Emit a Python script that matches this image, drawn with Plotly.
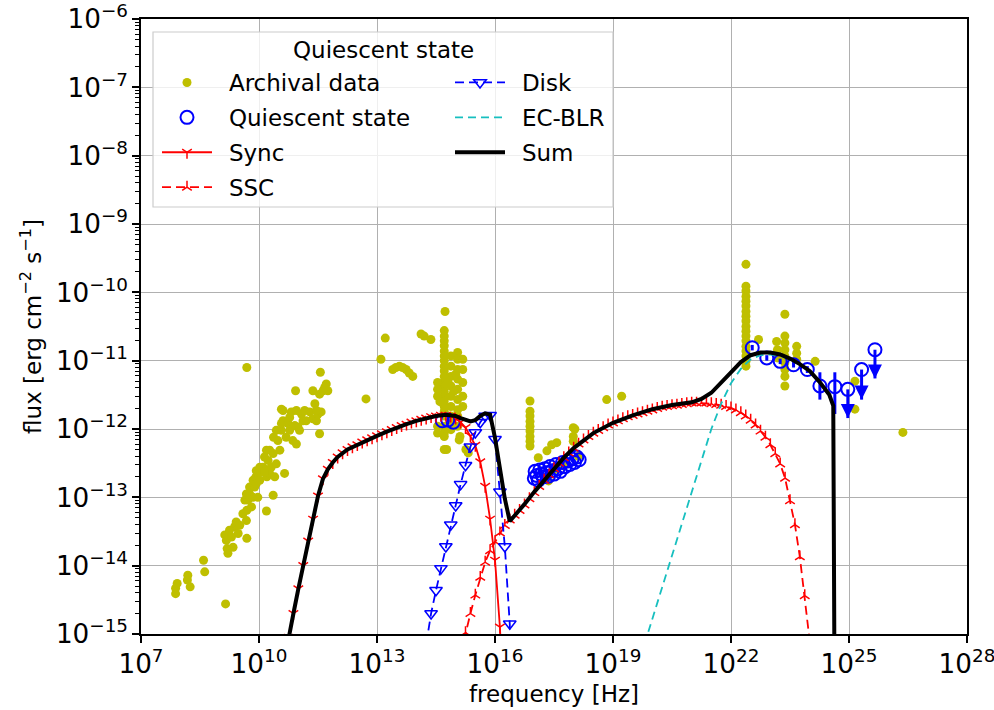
import numpy as np
import plotly.graph_objects as go

FONT = "DejaVu Sans"

# ---------------- archival data (log10 nu [Hz], log10 nuFnu [erg cm-2 s-1]) ----------------
arch_lognu = [
    7.88, 7.88, 7.92, 8.18, 8.19, 8.25, 8.59, 8.62, 9.15,
    9.13, 9.17, 9.19, 9.21, 9.34, 9.38, 9.42, 9.47, 9.51, 9.69, 9.68, 9.69, 9.72, 9.76, 9.76,
    9.81, 9.85, 9.89, 9.92, 9.93, 9.97, 10.02, 10.06, 10.10, 10.14, 10.19, 10.20, 10.23, 10.27,
    10.31, 10.36, 10.37, 10.40, 10.44, 10.48, 10.53, 10.57, 10.57, 10.61, 10.61, 10.65, 10.69,
    10.74, 10.78, 10.82, 10.86, 10.91, 10.95, 10.95, 10.99, 11.03, 11.08, 11.16, 11.20, 11.29,
    11.37, 11.42, 11.46, 11.50, 11.54, 11.58, 11.54, 11.63, 11.71, 11.75, 11.37, 10.93, 10.57,
    10.36, 10.19, 11.56, 9.69,
    9.25, 9.30, 9.59, 9.64, 9.68, 9.85, 9.93, 10.02, 10.14, 10.27, 10.44, 10.78, 11.12, 11.46, 11.67,
    12.72, 13.21, 13.10, 13.40, 13.57, 13.74, 13.82, 13.91, 14.12, 14.20, 14.37, 14.73, 13.48, 13.65,
    14.71, 14.71, 14.71, 14.71, 14.71, 14.71, 14.71, 14.71, 14.71, 14.71, 14.71, 14.71, 14.71,
    14.71, 14.71, 14.71, 14.71, 14.71, 14.71, 14.71, 14.71, 14.71,
    14.88, 14.88, 14.88, 14.88, 14.88, 14.88, 14.88, 14.88, 14.88,
    15.05, 15.05, 15.05, 15.05, 15.05, 15.05, 15.05, 15.05, 15.05,
    15.18, 15.18, 15.18, 15.18, 15.18,
    14.54, 14.54, 14.54, 14.54, 14.54,
    14.77, 15.09, 15.26, 15.32, 15.11, 14.60, 14.95, 15.00, 14.80,
    16.89, 16.89, 16.89, 16.89, 16.89, 16.89, 16.89, 16.89, 16.89,
    17.10, 17.32, 17.44, 17.57, 17.36, 17.99, 17.99, 18.12, 18.84, 17.53, 17.74, 19.22, 18.03, 17.99,
    22.38, 22.38, 22.38, 22.38, 22.38, 22.38, 22.38, 22.38, 22.38, 22.38, 22.38, 22.38, 22.38,
    22.38, 22.38, 22.38, 22.38, 22.38,
    22.70, 23.16, 23.18, 23.18, 23.37, 23.37, 23.37, 23.37, 23.37, 23.37, 23.37, 23.37, 23.37,
    23.67, 23.67, 23.67, 24.14, 25.15, 25.15, 26.37,
]
arch_logflux = [
    -14.41, -14.33, -14.26, -14.21, -14.14, -14.31, -13.92, -14.09, -14.56,
    -13.55, -13.63, -13.75, -13.82, -13.73, -13.43, -13.36, -13.53, -13.41, -13.60, -13.34, -13.19,
    -13.04, -12.95, -12.85, -13.14, -13.00, -12.85, -12.70, -12.61, -13.00, -12.75, -12.63, -12.56,
    -12.41, -12.31, -12.70, -12.46, -12.65, -12.56, -12.36, -12.12, -12.70, -12.51, -12.17, -12.31,
    -12.02, -11.92, -11.88, -11.73, -12.65, -12.12, -11.92, -12.02, -11.75, -12.17, -11.95, -12.22,
    -11.73, -11.97, -12.02, -11.78, -11.73, -11.88, -11.75, -11.85, -11.63, -11.88, -11.78, -12.07,
    -11.75, -11.49, -11.44, -11.34, -11.44, -11.44, -11.44, -11.71, -12.97, -13.20, -11.17, -11.10,
    -13.48, -13.58, -13.24, -13.04, -12.95, -12.75, -12.80, -12.56, -12.63, -12.31, -12.02, -11.83,
    -11.88, -11.73, -11.39,
    -11.56, -10.67, -10.98, -11.13, -11.08, -11.13, -11.18, -11.23, -10.61, -10.64, -10.69, -10.28,
    -11.10, -11.10,
    -10.56, -10.64, -10.71, -10.78, -10.86, -10.93, -11.00, -11.08, -11.15, -11.23, -11.30, -11.37,
    -11.45, -11.52, -11.59, -11.67, -11.74, -11.81, -11.96, -12.06, -12.11, -12.30,
    -10.93, -11.08, -11.23, -11.37, -11.52, -11.67, -11.81, -11.91, -12.01,
    -10.88, -10.98, -11.13, -11.27, -11.42, -11.57, -11.72, -11.81, -11.96,
    -10.98, -11.13, -11.32, -11.52, -11.67,
    -11.32, -11.42, -11.52, -11.96, -12.06,
    -12.30, -12.16, -12.30, -12.35, -12.11, -11.60, -11.45, -11.20, -11.30,
    -11.59, -11.74, -11.81, -11.89, -11.96, -12.03, -12.11, -12.18, -12.25,
    -12.42, -12.32, -12.23, -12.20, -12.76, -11.98, -12.11, -12.40, -11.57, -12.59, -12.54, -11.52,
    -12.00, -12.18,
    -9.59, -9.91, -9.98, -10.06, -10.13, -10.20, -10.28, -10.35, -10.42, -10.50, -10.57, -10.64,
    -10.71, -10.79, -10.86, -10.93, -11.01, -11.08,
    -10.69, -10.72, -10.84, -10.96, -10.32, -10.64, -10.74, -10.84, -10.93, -11.03, -11.13, -11.23,
    -11.37, -10.79, -10.89, -10.98, -11.01, -11.30, -11.71, -12.05,
]

# ---------------- quiescent-state data ----------------
# optical/UV and X-ray points
quies_lognu = [
    14.66, 14.80, 14.94,
    17.00, 17.02, 17.06, 17.10, 17.14, 17.18, 17.22, 17.27, 17.31, 17.36, 17.40, 17.45,
    17.50, 17.55, 17.60, 17.66, 17.72, 17.78, 17.84, 17.90, 17.96, 18.02, 18.08, 18.14,
]
quies_logflux = [
    -11.88, -11.87, -11.90,
    -12.72, -12.62, -12.68, -12.75, -12.60, -12.66, -12.70, -12.58, -12.64, -12.69, -12.55, -12.61,
    -12.66, -12.52, -12.58, -12.62, -12.49, -12.55, -12.47, -12.52, -12.44, -12.49, -12.41, -12.45,
]
# gamma-ray detections with error ranges
gam_lognu = [22.54, 22.91, 23.25, 23.59, 23.94, 24.26, 24.64]
gam_logflux = [-10.81, -10.96, -11.01, -11.06, -11.13, -11.37, -11.38]
gam_loghi = [-10.77, -10.92, -10.97, -11.02, -11.08, -11.17, -11.17]
gam_loglo = [-10.85, -11.00, -11.05, -11.10, -11.18, -11.57, -11.78]
# gamma-ray upper limits
ul_lognu = [24.97, 25.32, 25.66]
ul_logflux = [-11.42, -11.13, -10.84]
ul_logtip = [-11.84, -11.57, -11.26]

# ---------------- model components ----------------
sync_lognu = [10.625, 10.75, 10.875, 11.0, 11.125, 11.25, 11.375, 11.5, 11.625, 11.75, 11.875,
              12.0, 12.125, 12.25, 12.375, 12.5, 12.625, 12.75, 12.875, 13.0, 13.125, 13.25,
              13.375, 13.5, 13.625, 13.75, 13.875, 14.0, 14.125, 14.25, 14.375, 14.5, 14.625,
              14.75, 14.875, 15.0, 15.125, 15.25, 15.375, 15.5, 15.625, 15.75, 15.875, 16.0,
              16.125, 16.25]
sync_logflux = [-15.45, -15.05, -14.70, -14.34, -14.00, -13.64, -13.32, -12.98, -12.73, -12.59,
                -12.49, -12.41, -12.35, -12.30, -12.26, -12.23, -12.19, -12.16, -12.13, -12.10,
                -12.07, -12.04, -12.01, -11.98, -11.95, -11.93, -11.90, -11.88, -11.86, -11.84,
                -11.82, -11.81, -11.80, -11.80, -11.81, -11.84, -11.90, -11.98, -12.10, -12.24,
                -12.48, -12.84, -13.32, -13.92, -14.90, -16.30]

ssc_lognu = [15.125, 15.25, 15.375, 15.5, 15.625, 15.75, 15.875, 16.0, 16.125, 16.25, 16.375,
             16.5, 16.625, 16.75, 16.875, 17.0, 17.125, 17.25, 17.375, 17.5, 17.625, 17.75,
             17.875, 18.0, 18.125, 18.25, 18.375, 18.5, 18.625, 18.75, 18.875, 19.0, 19.125,
             19.25, 19.375, 19.5, 19.625, 19.75, 19.875, 20.0, 20.125, 20.25, 20.375, 20.5,
             20.625, 20.75, 20.875, 21.0, 21.125, 21.25, 21.375, 21.5, 21.625, 21.75, 21.875,
             22.0, 22.125, 22.25, 22.375, 22.5, 22.625, 22.75, 22.875, 23.0, 23.125, 23.25,
             23.375, 23.5, 23.625, 23.75, 23.875, 24.0, 24.125]
ssc_logflux = [-15.30, -14.98, -14.70, -14.43, -14.17, -13.95, -13.78, -13.65, -13.52, -13.41,
               -13.33, -13.26, -13.19, -13.11, -13.02, -12.93, -12.84, -12.75, -12.67, -12.58,
               -12.50, -12.42, -12.35, -12.28, -12.22, -12.16, -12.11, -12.06, -12.02, -11.98,
               -11.94, -11.91, -11.88, -11.85, -11.82, -11.80, -11.78, -11.76, -11.74, -11.72,
               -11.70, -11.68, -11.67, -11.66, -11.65, -11.64, -11.63, -11.62, -11.62, -11.62,
               -11.62, -11.63, -11.64, -11.65, -11.67, -11.69, -11.72, -11.76, -11.81, -11.87,
               -11.94, -12.03, -12.12, -12.23, -12.36, -12.51, -12.72, -13.05, -13.40, -13.87,
               -14.44, -15.10, -15.90]

disk_lognu = [14.25, 14.375, 14.5, 14.625, 14.75, 14.875, 15.0, 15.125, 15.25, 15.375, 15.5,
              15.625, 15.75, 15.875, 16.0, 16.125, 16.25, 16.375, 16.5]
disk_logflux = [-15.15, -14.70, -14.36, -14.04, -13.72, -13.40, -13.12, -12.81, -12.53, -12.26,
                -12.05, -11.90, -11.81, -11.80, -12.15, -12.92, -13.72, -14.85, -17.00]

ec_lognu = [19.8, 20.0, 20.25, 20.5, 20.75, 21.0, 21.25, 21.5, 21.75, 22.0, 22.25, 22.5, 22.75,
            23.0, 23.25, 23.5, 23.75, 24.0, 24.25, 24.5, 24.6, 24.62]
ec_logflux = [-15.15, -14.78, -14.34, -13.88, -13.41, -12.92, -12.46, -12.00, -11.63, -11.33,
              -11.12, -10.98, -10.92, -10.91, -10.93, -10.98, -11.06, -11.16, -11.32, -11.51,
              -11.68, -16.00]

sum_lognu = [10.625, 10.75, 10.875, 11.0, 11.125, 11.25, 11.375, 11.5, 11.625, 11.75, 11.875,
             12.0, 12.25, 12.5, 12.75, 13.0, 13.25, 13.5, 13.75, 14.0, 14.25, 14.5, 14.75, 15.0,
             15.125, 15.25, 15.375, 15.5, 15.625, 15.75, 15.875, 16.0, 16.125, 16.25, 16.375,
             16.5, 16.75, 17.0, 17.25, 17.5, 17.75, 18.0, 18.5, 19.0, 19.5, 20.0, 20.5, 21.0,
             21.25, 21.5, 21.75, 22.0, 22.25, 22.5, 22.75, 23.0, 23.25, 23.5, 23.75, 24.0, 24.25,
             24.5, 24.6, 24.62, 24.63]
sum_logflux = [-15.45, -15.05, -14.70, -14.34, -14.00, -13.64, -13.32, -12.98, -12.73, -12.59,
               -12.49, -12.41, -12.30, -12.23, -12.16, -12.10, -12.04, -11.98, -11.93, -11.88,
               -11.84, -11.81, -11.79, -11.81, -11.84, -11.87, -11.89, -11.87, -11.81, -11.77,
               -11.79, -12.13, -12.55, -13.02, -13.35, -13.27, -13.10, -12.92, -12.75, -12.58,
               -12.42, -12.28, -12.06, -11.91, -11.80, -11.71, -11.65, -11.61, -11.56, -11.47,
               -11.33, -11.17, -11.02, -10.92, -10.88, -10.88, -10.91, -10.97, -11.05, -11.15,
               -11.31, -11.50, -11.66, -13.00, -15.50]

# ---------------- page geometry ----------------
W, H = 994, 710
ML, MR, MT, MB = 141, 27, 19, 76
GAP = "\u00a0\u2009"  # spacing between legend handle and label


def xp(px):
    return (px - ML) / (W - ML - MR)


def yp(py):
    return (H - MB - py) / (H - MT - MB)


def lin(v):
    return np.power(10.0, np.asarray(v, dtype=float))


fig = go.Figure()

fig.add_trace(go.Scatter(
    x=lin(arch_lognu), y=lin(arch_logflux), mode="markers", name=GAP + "Archival data",
    marker=dict(color="#bfbf00", size=9, line=dict(width=0)),
    legend="legend", legendgroup="arch"))

fig.add_trace(go.Scatter(
    x=lin(quies_lognu), y=lin(quies_logflux), mode="markers", name=GAP + "Quiescent state",
    marker=dict(symbol="circle-open", color="#0000ff", size=13, line=dict(width=2)),
    legend="legend", legendgroup="quies"))

gy = lin(gam_logflux)
fig.add_trace(go.Scatter(
    x=lin(gam_lognu), y=gy, mode="markers", showlegend=False,
    marker=dict(symbol="circle-open", color="#0000ff", size=13, line=dict(width=2)),
    error_y=dict(type="data", symmetric=False, array=lin(gam_loghi) - gy,
                 arrayminus=gy - lin(gam_loglo), color="#0000ff", thickness=3, width=0),
    legend="legend", legendgroup="quies"))

uy = lin(ul_logflux)
fig.add_trace(go.Scatter(
    x=lin(ul_lognu), y=uy, mode="markers", showlegend=False,
    marker=dict(symbol="circle-open", color="#0000ff", size=13, line=dict(width=2)),
    error_y=dict(type="data", symmetric=False, array=[0, 0, 0],
                 arrayminus=uy - lin(ul_logtip), color="#0000ff", thickness=3, width=0),
    legend="legend", legendgroup="quies"))
fig.add_trace(go.Scatter(
    x=lin(ul_lognu), y=lin(ul_logtip), mode="markers", showlegend=False,
    marker=dict(symbol="arrow-down", color="#0000ff", size=14, line=dict(width=0)),
    legend="legend", legendgroup="quies"))

fig.add_trace(go.Scatter(
    x=lin(sync_lognu), y=lin(sync_logflux), mode="lines+markers", name=GAP + "Sync",
    line=dict(color="#ff0000", width=1.8),
    marker=dict(symbol="y-down", size=8, color="#ff0000", line=dict(color="#ff0000", width=1.5)),
    legend="legend", legendgroup="sync"))

fig.add_trace(go.Scatter(
    x=lin(ssc_lognu), y=lin(ssc_logflux), mode="lines+markers", name=GAP + "SSC",
    line=dict(color="#ff0000", width=1.8, dash="9px,5px"),
    marker=dict(symbol="y-up", size=8, color="#ff0000", line=dict(color="#ff0000", width=1.5)),
    legend="legend", legendgroup="ssc"))

fig.add_trace(go.Scatter(
    x=lin(disk_lognu), y=lin(disk_logflux), mode="lines+markers", name=GAP + "Disk",
    line=dict(color="#0000ff", width=1.8, dash="9px,5px"),
    marker=dict(symbol="triangle-down-open", size=11, color="#0000ff", line=dict(width=1.5)),
    legend="legend2", legendgroup="disk"))

fig.add_trace(go.Scatter(
    x=lin(ec_lognu), y=lin(ec_logflux), mode="lines", name=GAP + "EC-BLR",
    line=dict(color="#17bfbf", width=1.8, dash="8px,5px"),
    legend="legend2", legendgroup="ec"))

fig.add_trace(go.Scatter(
    x=lin(sum_lognu), y=lin(sum_logflux), mode="lines", name=GAP + "Sum",
    line=dict(color="#000000", width=4),
    legend="legend2", legendgroup="sum"))

axis_common = dict(
    type="log", showline=True, linecolor="black", linewidth=1.5, mirror=True,
    ticks="outside", ticklen=7, tickwidth=1.5, tickcolor="black",
    showgrid=True, gridcolor="#b0b0b0", gridwidth=1, zeroline=False,
    exponentformat="power", showexponent="all", automargin=False,
    ticklabeloverflow="allow",
    tickfont=dict(family=FONT, size=21, color="black"),
)

fig.update_xaxes(
    **axis_common, range=[7, 28], tick0=1, dtick=3,
    title=dict(text="frequency [Hz]", font=dict(family=FONT, size=23, color="black"), standoff=8),
)
fig.update_yaxes(
    **axis_common, range=[-15, -6], dtick=1,
    minor=dict(ticks="outside", ticklen=4, tickwidth=1, tickcolor="black", dtick="D1", showgrid=False),
    title=dict(text="flux [erg cm<sup>\u22122</sup> s<sup>\u22121</sup>]",
               font=dict(family=FONT, size=23, color="black"), standoff=8),
)

legend_common = dict(
    xanchor="left", yanchor="top", bgcolor="rgba(0,0,0,0)", borderwidth=0,
    font=dict(family=FONT, size=23, color="black"), itemwidth=50,
    tracegroupgap=2, traceorder="grouped",
)

fig.update_layout(
    width=W, height=H,
    margin=dict(l=ML, r=MR, t=MT, b=MB),
    paper_bgcolor="white", plot_bgcolor="white",
    font=dict(family=FONT, size=21, color="black"),
    showlegend=True,
    legend=dict(x=xp(157), y=yp(61), **legend_common),
    legend2=dict(x=xp(450), y=yp(61), **legend_common),
    shapes=[dict(type="rect", xref="paper", yref="paper", layer="above",
                 x0=xp(153), x1=xp(613), y0=yp(207), y1=yp(32),
                 fillcolor="rgba(255,255,255,0.8)", line=dict(color="#cccccc", width=1.2))],
    annotations=[dict(text="Quiescent state", xref="paper", yref="paper",
                      x=xp(383), y=yp(50), xanchor="center", yanchor="middle",
                      showarrow=False, font=dict(family=FONT, size=23, color="black"))],
)

fig.write_html("out.html")
